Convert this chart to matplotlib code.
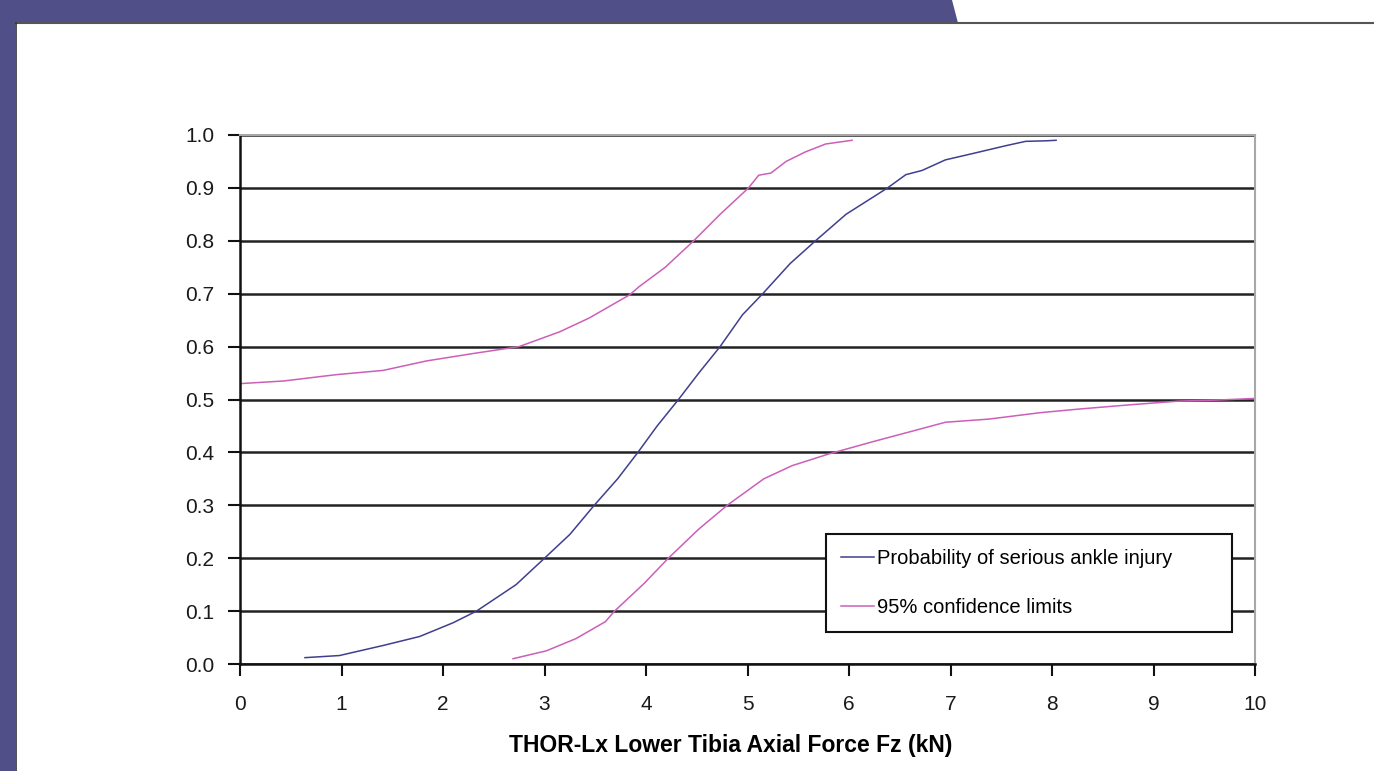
import matplotlib.pyplot as plt
from matplotlib.patches import Polygon, Rectangle
from matplotlib.lines import Line2D

plt.rcParams['font.family'] = ['Liberation Sans', 'DejaVu Sans']

# probability curve
prob_x = [0.64, 0.98, 1.41, 1.77, 2.1, 2.33, 2.72, 3.0, 3.25, 3.49, 3.72, 3.92,
          4.11, 4.32, 4.52, 4.73, 4.95, 5.15, 5.42, 5.67, 5.97, 6.38, 6.56, 6.72,
          6.95, 7.22, 7.55, 7.74, 7.94, 8.04]
prob_y = [0.012, 0.016, 0.035, 0.052, 0.078, 0.10, 0.15, 0.20, 0.245, 0.30, 0.35, 0.40,
          0.45, 0.50, 0.55, 0.60, 0.66, 0.70, 0.757, 0.80, 0.85, 0.90, 0.925, 0.933,
          0.953, 0.965, 0.98, 0.988, 0.989, 0.99]

# upper 95% limit
upper_x = [0, 0.43, 0.95, 1.41, 1.84, 2.3, 2.75, 3.15, 3.44, 3.84, 3.93, 4.19,
           4.47, 4.73, 5.01, 5.11, 5.23, 5.38, 5.57, 5.77, 6.03]
upper_y = [0.53, 0.535, 0.547, 0.555, 0.573, 0.587, 0.60, 0.628, 0.654, 0.698, 0.713, 0.75,
           0.80, 0.85, 0.90, 0.924, 0.928, 0.95, 0.968, 0.983, 0.99]

# lower 95% limit
lower_x = [2.69, 3.02, 3.31, 3.6, 3.69, 3.98, 4.22, 4.52, 4.8, 5.16, 5.44, 5.8,
           6.23, 6.62, 6.95, 7.38, 7.88, 8.27, 8.77, 9.25, 9.64, 10.0]
lower_y = [0.01, 0.025, 0.048, 0.08, 0.10, 0.152, 0.20, 0.255, 0.30, 0.35, 0.375, 0.397,
           0.42, 0.44, 0.457, 0.463, 0.475, 0.482, 0.49, 0.497, 0.499, 0.502]

x_ticks = list(range(0, 11))
y_ticks = [0.0, 0.1, 0.2, 0.3, 0.4, 0.5, 0.6, 0.7, 0.8, 0.9, 1.0]

blue = '#3F3F8F'
pink = '#CC5FB8'
slide = '#514F87'

W, H = 1374, 771
fig = plt.figure(figsize=(W / 100, H / 100), dpi=100)

# slide decoration (pixel coords -> figure fraction)
def fx(px):
    return px / W

def fy(py):
    return 1 - py / H

fig.patches.append(Rectangle((0, 0), fx(15), 1, transform=fig.transFigure,
                             facecolor=slide, edgecolor='none'))
fig.patches.append(Polygon([(0, 1), (fx(952), 1), (fx(958), fy(23)), (0, fy(23))],
                           closed=True, transform=fig.transFigure,
                           facecolor=slide, edgecolor='none'))
fig.lines.append(Line2D([fx(15), 1], [fy(23), fy(23)], transform=fig.transFigure,
                        color='#555555', lw=1.5))
fig.lines.append(Line2D([fx(16), fx(16)], [0, fy(23)], transform=fig.transFigure,
                        color='#333333', lw=1.2))

ax = fig.add_axes([fx(240), fy(664), fx(1255) - fx(240), fy(135) - fy(664)])

ax.plot(prob_x, prob_y, color=blue, lw=1.1, label='Probability of serious ankle injury')
ax.plot(upper_x, upper_y, color=pink, lw=1.1, label='95% confidence limits')
ax.plot(lower_x, lower_y, color=pink, lw=1.1)

ax.set_xlim(0, 10)
ax.set_ylim(0, 1.0)
ax.set_xticks(x_ticks)
ax.set_yticks(y_ticks)
ax.set_yticklabels([f'{v:.1f}' for v in y_ticks])

ax.yaxis.grid(True, color='#222222', lw=1.8)
ax.set_axisbelow(True)

for s in ['top', 'right']:
    ax.spines[s].set_color('#A8A8A8')
    ax.spines[s].set_linewidth(1.5)
for s in ['left', 'bottom']:
    ax.spines[s].set_color('#111111')
    ax.spines[s].set_linewidth(1.8)

ax.tick_params(axis='both', direction='out', length=8.5, width=1.5, color='#111111',
               labelsize=15, labelcolor='#1a1a1a')
ax.tick_params(axis='y', pad=10)
ax.tick_params(axis='x', pad=14)

ax.set_xlabel('THOR-Lx Lower Tibia Axial Force Fz (kN)', fontsize=16.5,
              fontweight='bold')
ax.xaxis.set_label_coords(0.483, -0.155)
ax.xaxis.label.set_va('center')

leg = ax.legend(loc='lower left', bbox_to_anchor=(0.577, 0.0605, 0.4, 0.18),
                mode='expand', borderaxespad=0, fontsize=14.5, frameon=True,
                fancybox=False, edgecolor='#111111', framealpha=1,
                borderpad=0.76, labelspacing=1.45, handlelength=1.65, handletextpad=0.15)
leg.get_frame().set_linewidth(1.5)

fig.savefig('out.png', dpi=100)
